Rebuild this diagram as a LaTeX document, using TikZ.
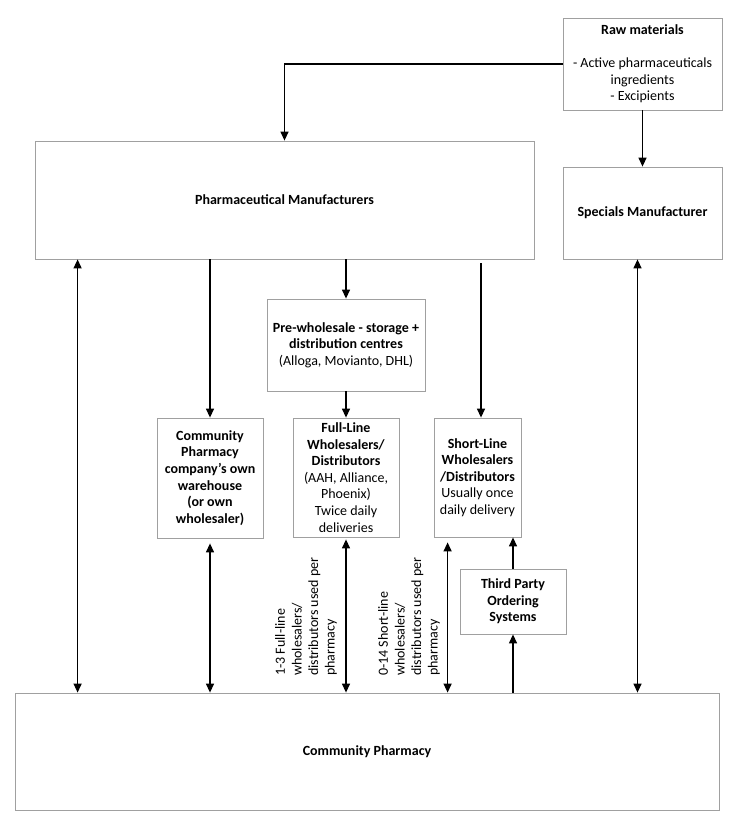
\documentclass[tikz,border=0pt]{standalone}
\usepackage{fontspec}
\setmainfont{Carlito}
\usetikzlibrary{arrows.meta}
\usetikzlibrary{positioning}
\definecolor{boxgray}{RGB}{160,160,160}

\begin{document}
\begin{tikzpicture}[x=1pt, y=-1pt,
    every node/.style={align=center, font=\fontsize{14}{16.6}\selectfont},
    box/.style={draw=boxgray, line width=0.8pt, fill=white, inner sep=0pt},
    flow/.style={line width=1.3pt, -{Triangle[length=9pt,width=8pt]}},
    twoway/.style={line width=1.3pt, {Triangle[length=9pt,width=8pt]}-{Triangle[length=9pt,width=8pt]}},
    sidenote/.style={rotate=90, anchor=north west, align=left, inner sep=0pt}]
    \useasboundingbox (0,0) rectangle (734,826);

    % Sources
    \node[box, minimum width=159pt, minimum height=92pt] (raw) at (642.5,64) {\textbf{Raw materials}\\[16.6pt]- Active pharmaceuticals\\ingredients\\- Excipients};
    \node[box, minimum width=499pt, minimum height=118pt] (pharma) at (284.5,200) {\textbf{Pharmaceutical Manufacturers}};
    \node[box, minimum width=159pt, minimum height=92pt] (specials) at (642.5,213) {\textbf{Specials Manufacturer}};

    % Distribution
    \node[box, minimum width=158pt, minimum height=92pt] (prewh) at (346,345) {\textbf{Pre-wholesale - storage +}\\\textbf{distribution centres}\\(Alloga, Movianto, DHL)};
    \node[box, minimum width=106pt, minimum height=120pt] (ownwh) at (210,478) {\textbf{Community}\\\textbf{Pharmacy}\\\textbf{company's own}\\\textbf{warehouse}\\\textbf{(or own}\\\textbf{wholesaler)}};
    \node[box, minimum width=106pt, minimum height=119pt] (fullline) at (346,477.5) {\textbf{Full-Line}\\\textbf{Wholesalers/}\\\textbf{Distributors}\\(AAH, Alliance,\\Phoenix)\\Twice daily\\deliveries};
    \node[box, minimum width=87pt, minimum height=119pt] (shortline) at (477.5,477.5) {\textbf{Short-Line}\\\textbf{Wholesalers}\\\textbf{/Distributors}\\Usually once\\daily delivery};
    \node[box, minimum width=106pt, minimum height=65pt] (thirdparty) at (513,601.5) {\textbf{Third Party}\\\textbf{Ordering}\\\textbf{Systems}};

    % Pharmacy
    \node[box, minimum width=704pt, minimum height=117pt] (commpharm) at (367,751.5) {\textbf{Community Pharmacy}};

    % Supply lines
    \draw[flow] (raw.west) -| (pharma.north);
    \draw[flow] (raw.south) -- (specials.north);
    \draw[flow] (pharma.south -| ownwh.north) -- (ownwh.north);
    \draw[flow] (pharma.south -| prewh.north) -- (prewh.north);
    \draw[flow] ([shift={(3.5pt,-4pt)}]pharma.south -| shortline.north) -- ([xshift=3.5pt]shortline.north);
    \draw[flow] (prewh.south) -- (fullline.north);
    \draw[flow] (commpharm.north -| thirdparty.south) -- (thirdparty.south);
    \draw[flow] (thirdparty.north) -- (thirdparty.north |- shortline.south);

    % Ordering both ways
    \draw[twoway] ([xshift=43pt]pharma.south west) -- ([xshift=43pt]pharma.south west |- commpharm.north);
    \draw[twoway] ([yshift=-5pt]ownwh.south) -- (ownwh.south |- commpharm.north);
    \draw[twoway] ([yshift=-2pt]fullline.south) -- (fullline.south |- commpharm.north);
    \draw[twoway] ([shift={(14pt,-5pt)}]shortline.south west) -- ([xshift=14pt]shortline.south west |- commpharm.north);
    \draw[twoway] ([xshift=-5pt]specials.south) -- ([xshift=-5pt]specials.south |- commpharm.north);

    % Notes on the wholesaler lines
    \node[sidenote] (fullnote) at (275,676) {1-3 Full-line\\wholesalers/\\distributors used per\\pharmacy};
    \node[sidenote] (shortnote) at (378,676) {0-14 Short-line\\wholesalers/\\distributors used per\\pharmacy};
\end{tikzpicture}
\end{document}
